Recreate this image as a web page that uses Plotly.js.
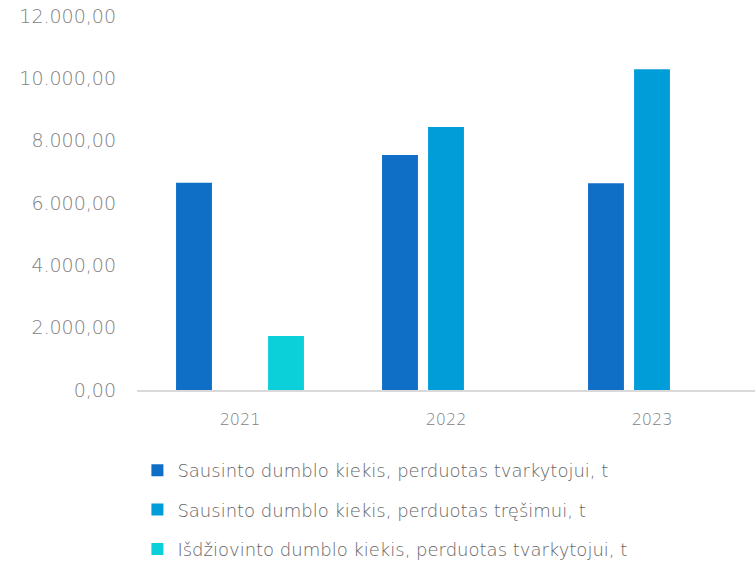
<!DOCTYPE html>
<html>
<head>
<meta charset="utf-8">
<script src="https://cdn.plot.ly/plotly-3.0.1.min.js"></script>
<style>html,body{margin:0;padding:0;background:#fff;}#chart{width:755px;height:567px;}</style>
</head>
<body>
<div id="chart"></div>
<script>
const years = ["2021", "2022", "2023"];
const seriesNames = [
  "Sausinto dumblo kiekis, perduotas tvarkytojui, t",
  "Sausinto dumblo kiekis, perduotas tręšimui, t",
  "Išdžiovinto dumblo kiekis, perduotas tvarkytojui, t"
];
const dried_to_handler = [6650, 7540, 6630];
const dried_to_fertilizing = [null, 8440, 10290];
const driedout_to_handler = [1730, null, null];
const colors = ["#0F6FC6", "#009DD9", "#0BD0D9"];
const yTicks = [0, 2000, 4000, 6000, 8000, 10000, 12000];

const values = [dried_to_handler, dried_to_fertilizing, driedout_to_handler];
const data = values.map((v, i) => ({
  type: "bar",
  x: years,
  y: v,
  name: seriesNames[i],
  legendgroup: "g" + i,
  marker: {color: colors[i], line: {width: 0}},
  hoverinfo: "x+y+name"
}));

const fam = "DejaVu Sans, sans-serif";
const layout = {
  width: 755, height: 567,
  margin: {l: 137, r: 0, t: 16, b: 177, autoexpand: false},
  paper_bgcolor: "#fff", plot_bgcolor: "#fff",
  separators: ",.",
  font: {family: fam, size: 16, color: "#7f7f7f", weight: 200},
  barmode: "group",
  bargap: 0.33,
  bargroupgap: 0.22,
  showlegend: true,
  legend: {
    orientation: "v",
    xref: "container", yref: "container",
    x: 0.182, y: 1 - 452/567,
    xanchor: "left", yanchor: "top",
    tracegroupgap: 13,
    traceorder: "grouped",
    font: {family: fam, size: 18, color: "#666666", weight: 200}
  },
  xaxis: {
    type: "category",
    showline: true, linecolor: "#d9d9d9", linewidth: 1.5,
    showgrid: false, zeroline: false, ticks: "",
    ticklabelstandoff: 14,
    tickfont: {family: fam, size: 16, color: "#7f7f7f", weight: 200}
  },
  yaxis: {
    range: [0, 12000],
    tickvals: yTicks,
    tickformat: ",.2f",
    showgrid: false, zeroline: false, showline: false, ticks: "",
    ticklabelstandoff: 20,
    tickfont: {family: fam, size: 19, color: "#7f7f7f", weight: 200}
  }
};
Plotly.newPlot("chart", data, layout, {displayModeBar: false, staticPlot: true});
</script>
</body>
</html>
